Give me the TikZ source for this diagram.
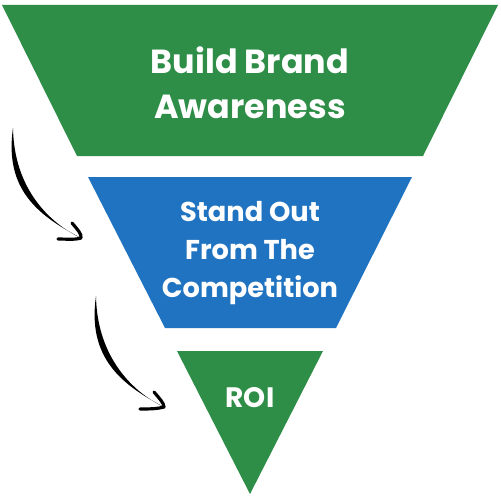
\documentclass[tikz,border=0pt]{standalone}
\usepackage{fontspec}
\setmainfont{Poppins}
\usetikzlibrary{calc}
\definecolor{funnelgreen}{RGB}{46,142,71}
\definecolor{funnelblue}{RGB}{31,115,192}

\begin{document}
\begin{tikzpicture}[x=0.02cm,y=-0.02cm,
    stagetext/.style={text=white, align=center},
    bigtext/.style={stagetext, font=\bfseries\fontsize{19}{25.5}\selectfont},
    midtext/.style={stagetext, font=\bfseries\fontsize{15.5}{21.6}\selectfont},
    barb/.style={draw=black, line width=1.8pt, line cap=round, line join=round}]
    \useasboundingbox (0,0) rectangle (500,500);

    % Top stage of the funnel
    \fill[funnelgreen] (2,5) -- (498,5) -- (423,156) -- (77,156) -- cycle;
    \node[bigtext] (brand) at (250,83) {Build Brand\\Awareness};

    % Middle stage
    \fill[funnelblue] (88,177) -- (412,177) -- (336,328) -- (165,328) -- cycle;
    \node[midtext] (compete) at (250,253) {Stand Out\\From The\\Competition};

    % Bottom stage
    \fill[funnelgreen] (177,351) -- (323,351) -- (250,494) -- cycle;
    \node[bigtext, font=\bfseries\fontsize{16}{20}\selectfont] (roi) at (250,398) {ROI};

    % Brush arrows on the left
    \coordinate (s1) at (13,128);
    \coordinate (e1) at (81,238);
    \coordinate (s2) at (96,296);
    \coordinate (e2) at (164,407);

    \fill (s1) .. controls +(1,62) and +(-30,-14) .. (e1)
               .. controls +(-42,-22) and +(-9,62) .. (s1);
    \draw[barb] (72,223) .. controls (77,229) and (82,234) .. (e1)
                .. controls (75,240) and (66,239) .. (58,239);

    \fill (s2) .. controls +(1,62) and +(-30,-14) .. (e2)
               .. controls +(-42,-22) and +(-9,62) .. (s2);
    \draw[barb] (154,392) .. controls (159,398) and (164,403) .. (e2)
                .. controls (157,409) and (148,409) .. (140,409);
\end{tikzpicture}
\end{document}
